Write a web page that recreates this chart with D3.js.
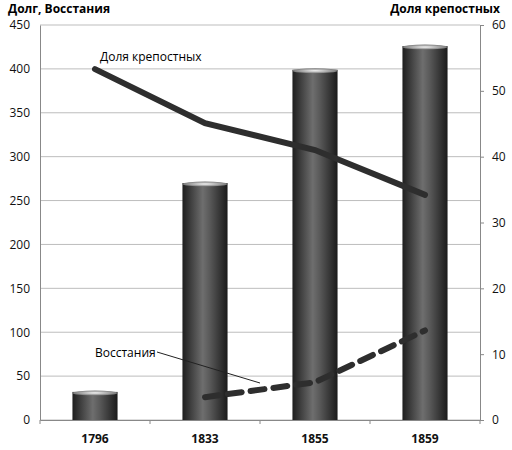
<!DOCTYPE html>
<html><head><meta charset="utf-8">
<script src="https://cdn.jsdelivr.net/npm/d3@7"></script>
<style>body{margin:0;background:#fff}text{font-family:"Open Sans",sans-serif}</style>
</head><body>
<svg id="mysvg" width="512" height="450"></svg>
<script>
var years = ["1796", "1833", "1855", "1859"];
var debt = [32, 270, 399, 426];
var serfShare = [53.3, 45.1, 41, 34.2];
var revoltYears = ["1833", "1855", "1859"];
var revolts = [26, 43, 102];
var leftTicks = d3.range(0, 451, 50);
var rightTicks = d3.range(0, 61, 10);

var svg = d3.select("#mysvg");
var plotL = 40, plotR = 480, plotT = 25, plotB = 420;

var x = d3.scaleBand().domain(years).range([plotL, plotR]).paddingInner(0.59).paddingOuter(0.295);
var yL = d3.scaleLinear().domain([0, 450]).range([plotB, plotT]);
var yR = d3.scaleLinear().domain([0, 60]).range([plotB, plotT]);

var defs = svg.append("defs");
var grad = defs.append("linearGradient").attr("id", "cyl");
grad.append("stop").attr("offset", "0%").attr("stop-color", "#1e1e1e");
grad.append("stop").attr("offset", "45%").attr("stop-color", "#6e6e6e");
grad.append("stop").attr("offset", "60%").attr("stop-color", "#5a5a5a");
grad.append("stop").attr("offset", "100%").attr("stop-color", "#1a1a1a");
var capG = defs.append("radialGradient").attr("id", "cap");
capG.append("stop").attr("offset", "0%").attr("stop-color", "#f4f4f4");
capG.append("stop").attr("offset", "100%").attr("stop-color", "#777");

// grid
svg.append("g").selectAll("line").data(leftTicks).join("line")
	.attr("x1", plotL).attr("x2", plotR)
	.attr("y1", d => yL(d)).attr("y2", d => yL(d))
	.attr("stroke", "#bdbdbd").attr("stroke-width", 1);

var axL = svg.append("g").attr("transform", "translate(" + plotL + ",0)")
	.call(d3.axisLeft(yL).tickValues(leftTicks).tickSize(0).tickPadding(10));
var axR = svg.append("g").attr("transform", "translate(" + plotR + ",0)")
	.call(d3.axisRight(yR).tickValues(rightTicks).tickSize(4).tickPadding(8));
var axB = svg.append("g").attr("transform", "translate(0," + plotB + ")")
	.call(d3.axisBottom(x).tickSize(0).tickPadding(14));
[axL, axR, axB].forEach(function (a) {
	a.selectAll("path").attr("stroke", "#888");
	a.selectAll("line").attr("stroke", "#888");
	a.selectAll("text").attr("font-size", 12).attr("fill", "#111");
});
axB.selectAll("text").attr("font-weight", "bold");
axB.selectAll(".sep").data(d3.range(0, 5)).join("line")
	.attr("x1", d => plotL + d * x.step()).attr("x2", d => plotL + d * x.step())
	.attr("y1", 0).attr("y2", 4).attr("stroke", "#888");

// bars
var bars = svg.append("g").selectAll("g").data(years).join("g");
bars.append("rect")
	.attr("x", d => x(d)).attr("width", x.bandwidth())
	.attr("y", (d, i) => yL(debt[i])).attr("height", (d, i) => plotB - yL(debt[i]))
	.attr("fill", "url(#cyl)");
bars.append("ellipse")
	.attr("cx", d => x(d) + x.bandwidth() / 2).attr("cy", (d, i) => yL(debt[i]) + 1)
	.attr("rx", x.bandwidth() / 2).attr("ry", 2.5)
	.attr("fill", "url(#cap)");

// lines
var cx = d => x(d) + x.bandwidth() / 2;
svg.append("path")
	.attr("d", d3.line().x((d, i) => cx(years[i])).y(d => yR(d))(serfShare))
	.attr("fill", "none").attr("stroke", "#2e2e2e").attr("stroke-width", 6).attr("stroke-linecap", "round");
svg.append("path")
	.attr("d", d3.line().x((d, i) => cx(revoltYears[i])).y(d => yL(d))(revolts))
	.attr("fill", "none").attr("stroke", "#2e2e2e").attr("stroke-width", 6)
	.attr("stroke-dasharray", "14,9").attr("stroke-linecap", "round");

// labels
svg.append("text").attr("x", 100).attr("y", 61).attr("font-size", 12).text("Доля крепостных");
svg.append("text").attr("x", 95).attr("y", 357).attr("font-size", 12).text("Восстания");
svg.append("line").attr("x1", 157).attr("y1", 352).attr("x2", 260).attr("y2", 383)
	.attr("stroke", "#222").attr("stroke-width", 1);

svg.append("text").attr("x", 8).attr("y", 13).attr("font-size", 12).attr("font-weight", "bold").text("Долг, Восстания");
svg.append("text").attr("x", 500).attr("y", 13).attr("font-size", 12).attr("font-weight", "bold")
	.attr("text-anchor", "end").text("Доля крепостных");
</script>
</body></html>
